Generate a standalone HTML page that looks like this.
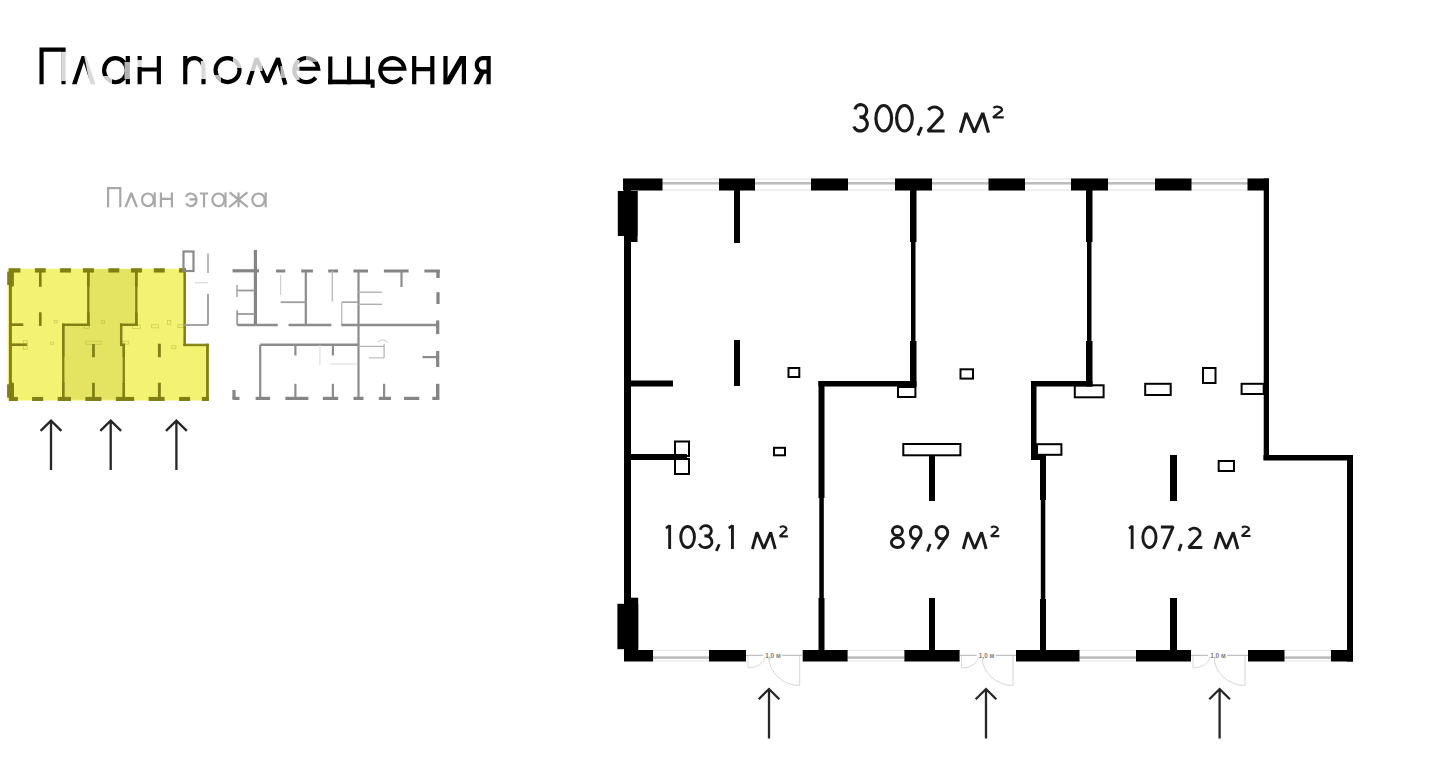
<!DOCTYPE html>
<html><head><meta charset="utf-8">
<style>
html,body{margin:0;padding:0;background:#fff;}
body{width:1438px;height:767px;position:relative;overflow:hidden;font-family:"Liberation Sans",sans-serif;}
.t{position:absolute;white-space:nowrap;line-height:1;}
svg{position:absolute;left:0;top:0;}
</style></head><body>
<svg width="1438" height="767" viewBox="0 0 1438 767">
<defs>
<g id="walls">
<rect x="623" y="178.5" width="39.5" height="12.0"/>
<rect x="719" y="178.5" width="36" height="12.0"/>
<rect x="811" y="178.5" width="37" height="12.0"/>
<rect x="895" y="178.5" width="37" height="12.0"/>
<rect x="988.5" y="178.5" width="36.5" height="12.0"/>
<rect x="1071" y="178.5" width="37" height="12.0"/>
<rect x="1155" y="178.5" width="36.5" height="12.0"/>
<rect x="1247.5" y="178.5" width="21.5" height="12.0"/>
<rect x="624" y="650" width="29" height="11.5"/>
<rect x="709" y="650" width="37" height="11.5"/>
<rect x="802.7" y="650" width="44.9" height="11.5"/>
<rect x="904.4" y="650" width="55.2" height="11.5"/>
<rect x="1016" y="650" width="63.5" height="11.5"/>
<rect x="1136" y="650" width="55" height="11.5"/>
<rect x="1248" y="650" width="36.5" height="11.5"/>
<rect x="1331" y="650" width="22" height="11.5"/>
<rect x="624" y="190" width="7" height="460"/>
<rect x="617.8" y="191" width="19.7" height="45"/>
<rect x="624" y="191" width="13.5" height="51"/>
<rect x="617.4" y="603.8" width="20.8" height="45.4"/>
<rect x="624" y="597.7" width="14.2" height="52.3"/>
<rect x="910" y="190" width="6.5" height="52"/>
<rect x="911" y="242" width="4.5" height="99"/>
<rect x="910" y="341" width="6.5" height="45.5"/>
<rect x="1086" y="190" width="6.5" height="52"/>
<rect x="1087" y="242" width="4.5" height="99"/>
<rect x="1086" y="341" width="6.5" height="45.5"/>
<rect x="818.5" y="381" width="98.0" height="5.5"/>
<rect x="818.5" y="381" width="6.0" height="117"/>
<rect x="819.3" y="498" width="4.5" height="100"/>
<rect x="818.5" y="598" width="6.0" height="52"/>
<rect x="1031" y="381" width="61.5" height="5.5"/>
<rect x="1031" y="381" width="5.5" height="79"/>
<rect x="1031" y="455" width="15" height="5"/>
<rect x="1040" y="455" width="6" height="45"/>
<rect x="1040.8" y="500" width="4.5" height="99"/>
<rect x="1040" y="599" width="6" height="51"/>
<rect x="1263.7" y="178.5" width="5.3" height="281.5"/>
<rect x="1263.5" y="455" width="89.5" height="5.5"/>
<rect x="1347" y="455" width="6" height="206.5"/>
<rect x="734" y="190" width="6" height="53"/>
<rect x="734" y="340" width="6" height="46"/>
<rect x="631" y="380.5" width="42" height="6.0"/>
<rect x="631" y="454" width="56" height="6"/>
<rect x="929" y="598" width="6" height="52"/>
<rect x="929" y="456" width="6" height="45"/>
<rect x="1170" y="455" width="7" height="46"/>
<rect x="1170" y="598" width="7" height="52"/>
</g>
</defs>
<!-- main plan -->
<g fill="#fff"><rect x="623" y="182" width="646" height="2.6" fill="#bdbdbd"/>
<rect x="623" y="178.5" width="646" height="1" fill="#e4e4e4"/>
<rect x="623" y="189.5" width="646" height="1" fill="#e4e4e4"/>
<rect x="653" y="656.3" width="56" height="2.6" fill="#bdbdbd"/>
<rect x="653" y="650" width="56" height="1" fill="#e4e4e4"/>
<rect x="653" y="660.5" width="56" height="1" fill="#e4e4e4"/>
<rect x="847.6" y="656.3" width="56.799999999999955" height="2.6" fill="#bdbdbd"/>
<rect x="847.6" y="650" width="56.799999999999955" height="1" fill="#e4e4e4"/>
<rect x="847.6" y="660.5" width="56.799999999999955" height="1" fill="#e4e4e4"/>
<rect x="1079.5" y="656.3" width="56.5" height="2.6" fill="#bdbdbd"/>
<rect x="1079.5" y="650" width="56.5" height="1" fill="#e4e4e4"/>
<rect x="1079.5" y="660.5" width="56.5" height="1" fill="#e4e4e4"/>
<rect x="1284.5" y="656.3" width="46.5" height="2.6" fill="#bdbdbd"/>
<rect x="1284.5" y="650" width="46.5" height="1" fill="#e4e4e4"/>
<rect x="1284.5" y="660.5" width="46.5" height="1" fill="#e4e4e4"/></g>
<g fill="#000">
<use href="#walls"/>
</g>
<g fill="none" stroke="#000" stroke-width="2">
<rect x="788.5" y="368.0" width="10.8" height="9"/>
<rect x="898.0" y="387.0" width="17.4" height="10"/>
<rect x="960.5" y="369.3" width="12.5" height="9.3"/>
<rect x="1074.8" y="385.3" width="28.8" height="12.0"/>
<rect x="1145.2" y="383.8" width="25.5" height="11.2"/>
<rect x="1203.0" y="368.0" width="12.5" height="15"/>
<rect x="1241.6" y="383.8" width="22.1" height="10.2"/>
<rect x="675.0" y="441.5" width="14" height="14.5"/>
<rect x="675.0" y="459.0" width="14" height="15"/>
<rect x="774.0" y="447.8" width="11" height="7.5"/>
<rect x="903.3" y="444.0" width="57.1" height="11.3"/>
<rect x="1037.0" y="444.2" width="24.4" height="10.6"/>
<rect x="1218.7" y="461.0" width="15.3" height="10"/>
</g>
<line x1="746" y1="655.3" x2="763" y2="655.3" stroke="#aaa" stroke-width="0.9"/>
<line x1="782" y1="655.3" x2="802.7" y2="655.3" stroke="#aaa" stroke-width="0.9"/>
<text x="773" y="657.6" font-size="6.5" fill="#808080" font-weight="bold" text-anchor="middle" font-family="Liberation Sans, sans-serif">1,0 м</text>
<path d="M799.7 656 L799.7 685.5 A31 29.5 0 0 1 768.7 656.5" fill="none" stroke="#d6d6d6" stroke-width="1"/>
<path d="M748 656 L748 668 A17 12 0 0 0 765 657" fill="none" stroke="#dadada" stroke-width="1"/>
<line x1="959.6" y1="655.3" x2="976.6" y2="655.3" stroke="#aaa" stroke-width="0.9"/>
<line x1="995.6" y1="655.3" x2="1016" y2="655.3" stroke="#aaa" stroke-width="0.9"/>
<text x="986.6" y="657.6" font-size="6.5" fill="#808080" font-weight="bold" text-anchor="middle" font-family="Liberation Sans, sans-serif">1,0 м</text>
<path d="M1013 656 L1013 685.5 A31 29.5 0 0 1 982 656.5" fill="none" stroke="#d6d6d6" stroke-width="1"/>
<path d="M961.6 656 L961.6 668 A17 12 0 0 0 978.6 657" fill="none" stroke="#dadada" stroke-width="1"/>
<line x1="1191" y1="655.3" x2="1208" y2="655.3" stroke="#aaa" stroke-width="0.9"/>
<line x1="1227" y1="655.3" x2="1248" y2="655.3" stroke="#aaa" stroke-width="0.9"/>
<text x="1218" y="657.6" font-size="6.5" fill="#808080" font-weight="bold" text-anchor="middle" font-family="Liberation Sans, sans-serif">1,0 м</text>
<path d="M1245 656 L1245 685.5 A31 29.5 0 0 1 1214 656.5" fill="none" stroke="#d6d6d6" stroke-width="1"/>
<path d="M1193 656 L1193 668 A17 12 0 0 0 1210 657" fill="none" stroke="#dadada" stroke-width="1"/>
<path d="M769 738.5 L769 690 M758.7 699.2 L769 689 L779.3 699.2" fill="none" stroke="#262626" stroke-width="2.3" stroke-linecap="butt" stroke-linejoin="miter"/>
<path d="M986 738.5 L986 690 M975.7 699.2 L986 689 L996.3 699.2" fill="none" stroke="#262626" stroke-width="2.3" stroke-linecap="butt" stroke-linejoin="miter"/>
<path d="M1219.6 738.5 L1219.6 690 M1209.3 699.2 L1219.6 689 L1229.8999999999999 699.2" fill="none" stroke="#262626" stroke-width="2.3" stroke-linecap="butt" stroke-linejoin="miter"/>
<!-- thumbnail -->
<g transform="translate(-160.8,220.07) scale(0.2728)">
<polygon points="617.5,178.5 1269.5,178.5 1269.5,457 1353,457 1353,661.5 617.5,661.5" fill="#f3f272"/>
<polygon points="818.5,658 818.5,381 910,381 910,180 1086,180 1086,381 1031,381 1031,455 1040,455 1040,658" fill="#e4e462"/>
<g fill="#7f7f14" stroke="#7f7f14" stroke-width="3.5"><use href="#walls"/></g>
<g fill="none" stroke="#9a9a30" stroke-width="3" opacity="0.4"><rect x="788.5" y="368.0" width="10.8" height="9"/>
<rect x="898.0" y="387.0" width="17.4" height="10"/>
<rect x="960.5" y="369.3" width="12.5" height="9.3"/>
<rect x="1074.8" y="385.3" width="28.8" height="12.0"/>
<rect x="1145.2" y="383.8" width="25.5" height="11.2"/>
<rect x="1203.0" y="368.0" width="12.5" height="15"/>
<rect x="1241.6" y="383.8" width="22.1" height="10.2"/>
<rect x="675.0" y="441.5" width="14" height="14.5"/>
<rect x="675.0" y="459.0" width="14" height="15"/>
<rect x="774.0" y="447.8" width="11" height="7.5"/>
<rect x="903.3" y="444.0" width="57.1" height="11.3"/>
<rect x="1037.0" y="444.2" width="24.4" height="10.6"/>
<rect x="1218.7" y="461.0" width="15.3" height="10"/></g>
</g>
<rect x="183.5" y="251.5" width="10" height="19.5" fill="none" stroke="#8a8a8a" stroke-width="2.2"/>
<line x1="208" y1="253.5" x2="208" y2="273" stroke="#a8a8a8" stroke-width="1.6"/>
<line x1="195" y1="282.8" x2="208" y2="282.8" stroke="#cfcfcf" stroke-width="1"/>
<line x1="208" y1="294" x2="208" y2="325" stroke="#9a9a9a" stroke-width="1.8"/>
<line x1="184" y1="325" x2="208" y2="325" stroke="#9a9a9a" stroke-width="1.8"/>
<line x1="255.4" y1="250" x2="255.4" y2="325" stroke="#858585" stroke-width="3.2"/>
<line x1="232.5" y1="270.8" x2="259" y2="270.8" stroke="#858585" stroke-width="3.2"/>
<line x1="237.2" y1="310.4" x2="237.2" y2="325" stroke="#999" stroke-width="1.8"/>
<line x1="237" y1="314" x2="255" y2="314" stroke="#999" stroke-width="1.8"/>
<line x1="237" y1="290.5" x2="255" y2="290.5" stroke="#999" stroke-width="1.8"/>
<line x1="237" y1="285" x2="237" y2="297" stroke="#aaa" stroke-width="1.6"/>
<line x1="276" y1="271" x2="285.3" y2="271" stroke="#858585" stroke-width="3"/>
<line x1="301.2" y1="271" x2="312.9" y2="271" stroke="#858585" stroke-width="3"/>
<line x1="328.2" y1="271" x2="338.1" y2="271" stroke="#858585" stroke-width="3"/>
<line x1="353.4" y1="271" x2="368" y2="271" stroke="#858585" stroke-width="3"/>
<line x1="383.9" y1="271" x2="408.6" y2="271" stroke="#858585" stroke-width="3"/>
<line x1="424.4" y1="271" x2="439.7" y2="271" stroke="#858585" stroke-width="3"/>
<line x1="438" y1="270" x2="438" y2="278" stroke="#858585" stroke-width="3.4"/>
<line x1="305.8" y1="271" x2="305.8" y2="325" stroke="#8c8c8c" stroke-width="2.2"/>
<line x1="358.5" y1="271" x2="358.5" y2="398.4" stroke="#8c8c8c" stroke-width="2.2"/>
<line x1="401.5" y1="271" x2="401.5" y2="287" stroke="#8c8c8c" stroke-width="2.2"/>
<line x1="332.3" y1="271" x2="332.3" y2="301.6" stroke="#bdbdbd" stroke-width="1.4"/>
<line x1="280.6" y1="302.2" x2="306" y2="302.2" stroke="#9d9d9d" stroke-width="1.8"/>
<line x1="280.6" y1="275" x2="280.6" y2="295" stroke="#cfcfcf" stroke-width="1.2"/>
<line x1="341.7" y1="302.2" x2="358" y2="302.2" stroke="#a5a5a5" stroke-width="1.6"/>
<line x1="341.7" y1="302.2" x2="341.7" y2="325" stroke="#bdbdbd" stroke-width="1.4"/>
<line x1="358" y1="292.2" x2="382" y2="292.2" stroke="#b0b0b0" stroke-width="1.4"/>
<line x1="358" y1="304.3" x2="382" y2="304.3" stroke="#b0b0b0" stroke-width="1.4"/>
<line x1="438" y1="292.2" x2="438" y2="304" stroke="#858585" stroke-width="3.2"/>
<line x1="237.2" y1="325" x2="277.8" y2="325" stroke="#8c8c8c" stroke-width="2.4"/>
<line x1="288.5" y1="325" x2="331.3" y2="325" stroke="#8c8c8c" stroke-width="2.4"/>
<line x1="341.3" y1="325" x2="438.4" y2="325" stroke="#8c8c8c" stroke-width="2.4"/>
<line x1="437.7" y1="320.4" x2="437.7" y2="334.1" stroke="#858585" stroke-width="3.2"/>
<line x1="260.2" y1="344.8" x2="358.9" y2="344.8" stroke="#8c8c8c" stroke-width="2.4"/>
<line x1="260.2" y1="344.8" x2="260.2" y2="398.4" stroke="#8c8c8c" stroke-width="2.2"/>
<line x1="295.4" y1="344.8" x2="295.4" y2="355.5" stroke="#8c8c8c" stroke-width="2.2"/>
<line x1="332.9" y1="344.8" x2="332.9" y2="355.5" stroke="#8c8c8c" stroke-width="2.2"/>
<line x1="295.4" y1="383.8" x2="295.4" y2="398.4" stroke="#8c8c8c" stroke-width="2.2"/>
<line x1="332.9" y1="383.8" x2="332.9" y2="398.4" stroke="#8c8c8c" stroke-width="2.2"/>
<line x1="384.1" y1="383.8" x2="384.1" y2="398.4" stroke="#8c8c8c" stroke-width="2.2"/>
<line x1="422.4" y1="357.1" x2="437.7" y2="357.1" stroke="#8c8c8c" stroke-width="2.2"/>
<line x1="437.7" y1="351" x2="437.7" y2="367" stroke="#858585" stroke-width="3.2"/>
<line x1="232.6" y1="398.4" x2="239.5" y2="398.4" stroke="#858585" stroke-width="3.2"/>
<line x1="255.6" y1="398.4" x2="270.1" y2="398.4" stroke="#858585" stroke-width="3.2"/>
<line x1="285.4" y1="398.4" x2="308.4" y2="398.4" stroke="#858585" stroke-width="3.2"/>
<line x1="322.9" y1="398.4" x2="338.2" y2="398.4" stroke="#858585" stroke-width="3.2"/>
<line x1="353.5" y1="398.4" x2="363.5" y2="398.4" stroke="#858585" stroke-width="3.2"/>
<line x1="378.8" y1="398.4" x2="391" y2="398.4" stroke="#858585" stroke-width="3.2"/>
<line x1="404" y1="398.4" x2="419.3" y2="398.4" stroke="#858585" stroke-width="3.2"/>
<line x1="432.3" y1="398.4" x2="439.2" y2="398.4" stroke="#858585" stroke-width="3.2"/>
<line x1="234" y1="390" x2="234" y2="399" stroke="#858585" stroke-width="3.2"/>
<line x1="437.7" y1="383.8" x2="437.7" y2="399.5" stroke="#858585" stroke-width="3.4"/>
<line x1="359.6" y1="346.4" x2="384.1" y2="346.4" stroke="#b5b5b5" stroke-width="1.3"/>
<line x1="384.1" y1="344" x2="384.1" y2="357.8" stroke="#b5b5b5" stroke-width="1.3"/>
<line x1="368.8" y1="357.8" x2="384.1" y2="357.8" stroke="#c5c5c5" stroke-width="1.3"/>
<line x1="330.6" y1="364" x2="356.6" y2="364" stroke="#dcdcdc" stroke-width="1.1"/>
<line x1="319.9" y1="345" x2="319.9" y2="365" stroke="#dcdcdc" stroke-width="1.1"/>
<path d="M378 342 Q384 337 388 343" fill="none" stroke="#c8c8c8" stroke-width="1"/>
<path d="M51 470 L51 421.7 M40.6 430.9 L51 420.7 L61.4 430.9" fill="none" stroke="#262626" stroke-width="2.3" stroke-linecap="butt" stroke-linejoin="miter"/>
<path d="M110.7 470 L110.7 421.7 M100.3 430.9 L110.7 420.7 L121.10000000000001 430.9" fill="none" stroke="#262626" stroke-width="2.3" stroke-linecap="butt" stroke-linejoin="miter"/>
<path d="M176.4 470 L176.4 421.7 M166.0 430.9 L176.4 420.7 L186.8 430.9" fill="none" stroke="#262626" stroke-width="2.3" stroke-linecap="butt" stroke-linejoin="miter"/>
<path d="M41.55 84.2 V49.55 H63.55 V84.2" fill="none" stroke="#000" stroke-width="4.15" stroke-linejoin="miter"/>
<polygon points="72,84.2 81.6,56 86,56 95.4,84.2 90.8,84.2 83.8,62.5 76.6,84.2" fill="#000"/>
<ellipse cx="115.4" cy="70.2" rx="11.3" ry="12" fill="none" stroke="#000" stroke-width="4.15"/>
<path d="M127.8 56 V84.2" stroke="#000" stroke-width="4.2"/>
<path d="M139.65 56 V84.2 M158.85 56 V84.2 M139.65 69.5 H158.85" stroke="#000" stroke-width="4.15" fill="none"/>
<path d="M185.25 84.2 V56 M185.25 70 C185.25 62.5 189 58.15 194.4 58.15 C199.8 58.15 203.5 62.5 203.5 68.5 V84.2" fill="none" stroke="#000" stroke-width="4.15"/>
<circle cx="227.55" cy="70.1" r="12" fill="none" stroke="#000" stroke-width="4.15"/>
<polyline points="248.2,84.6 256.6,58.3 267.3,82.2 278,58.3 285.4,84.6" fill="none" stroke="#000" stroke-width="4.15" stroke-linejoin="bevel"/>
<path d="M294.25 68.7 H318.25 A12 12 0 1 0 315.71 77.59" fill="none" stroke="#000" stroke-width="4.15"/>
<path d="M330.3 56.4 V84.2 M349.1 56.4 V84.2 M367.9 56.4 V84.2" stroke="#000" stroke-width="4.2" fill="none"/>
<rect x="328.1" y="79.6" width="44.5" height="4.6" fill="#000"/><rect x="370.6" y="79.6" width="4" height="8.2" fill="#000"/>
<path d="M380.3 68.7 H404.3 A12 12 0 1 0 401.76 77.59" fill="none" stroke="#000" stroke-width="4.15"/>
<path d="M414.2 56 V84.2 M432.3 56 V84.2 M414.2 69.2 H432.3" stroke="#000" stroke-width="4.2" fill="none"/>
<path d="M445.5 56 V84.2 M463.9 56 V84.2" stroke="#000" stroke-width="4.2" fill="none"/><polygon points="443.4,84.2 449.6,84.2 466.1,56 459.9,56" fill="#000"/>
<path d="M488.6 56 V84.2 M488.6 58.15 H482.8 A6 6.7 0 0 0 482.8 71.6 H488.6" stroke="#000" stroke-width="4.2" fill="none"/><polygon points="480.5,70.5 486,70.5 478.8,84.2 473.3,84.2" fill="#000"/>
<rect x="61.3" y="51.8" width="5.5" height="29.200000000000003" fill="#fff" opacity="0.85"/>
<rect x="103" y="76" width="9" height="10" fill="#fff" opacity="0.8"/>
<rect x="124.5" y="62" width="6.5" height="17" fill="#fff" opacity="0.7"/>
<rect x="136.8" y="60" width="5.699999999999989" height="7" fill="#fff" opacity="0.85"/>
<rect x="200.8" y="61" width="5.699999999999989" height="18" fill="#fff" opacity="0.85"/>
<rect x="233" y="57" width="9.5" height="11" fill="#fff" opacity="0.8"/>
<rect x="212.5" y="75" width="8.5" height="10" fill="#fff" opacity="0.7"/>
<rect x="245.5" y="55" width="17.0" height="16" fill="#fff" opacity="0.8"/>
<rect x="280.5" y="66" width="7.5" height="12" fill="#fff" opacity="0.7"/>
<rect x="291.5" y="60" width="8.0" height="20" fill="#fff" opacity="0.8"/>
<rect x="306" y="55" width="11" height="7" fill="#fff" opacity="0.6"/>
<polygon points="84,55 88.5,55 97,85 90,85" fill="#fff" opacity="0.85"/>
<path d="M854.98 109.32 A5.97 6.23 0 1 1 860.74 117.16 M859.40 117.16 A7.00 6.92 0 1 1 853.82 126.45" fill="none" stroke="#1a1a1a" stroke-width="3.20" stroke-linejoin="bevel"/>
<ellipse cx="883.75" cy="118.25" rx="7.85" ry="12.75" fill="none" stroke="#1a1a1a" stroke-width="3.20"/>
<ellipse cx="904.45" cy="118.25" rx="7.85" ry="12.75" fill="none" stroke="#1a1a1a" stroke-width="3.20"/>
<path d="M928.36 109.92 A7.55 6.72 0 0 1 941.63 116.08 L927.90 131.00 H944.60" fill="none" stroke="#1a1a1a" stroke-width="3.20" stroke-linejoin="bevel"/>
<path d="M921.60 127.00 L918.00 135.50" fill="none" stroke="#1a1a1a" stroke-width="3.04" stroke-linejoin="bevel"/>
<polyline points="960.40,132.60 966.16,113.02 974.45,132.28 982.74,113.02 988.50,132.60" fill="none" stroke="#1a1a1a" stroke-width="3.20" stroke-linejoin="bevel"/>
<path d="M993.34 107.99 A4.75 2.79 0 0 1 1001.69 110.55 L993.05 117.45 H1003.70" fill="none" stroke="#1a1a1a" stroke-width="2.30" stroke-linejoin="bevel"/>
<path d="M669.65 525.00 V549.00" fill="none" stroke="#1a1a1a" stroke-width="2.90" stroke-linejoin="bevel"/><path d="M665.93 528.12 L669.65 525.58" fill="none" stroke="#1a1a1a" stroke-width="2.46" stroke-linejoin="bevel"/>
<ellipse cx="687.60" cy="537.00" rx="6.85" ry="10.55" fill="none" stroke="#1a1a1a" stroke-width="2.90"/>
<path d="M700.32 529.55 A5.59 5.16 0 1 1 705.72 536.03 M704.40 536.04 A6.55 5.76 0 1 1 699.25 543.76" fill="none" stroke="#1a1a1a" stroke-width="2.90" stroke-linejoin="bevel"/>
<path d="M732.45 525.00 V549.00" fill="none" stroke="#1a1a1a" stroke-width="2.90" stroke-linejoin="bevel"/><path d="M728.73 528.12 L732.45 525.58" fill="none" stroke="#1a1a1a" stroke-width="2.46" stroke-linejoin="bevel"/>
<path d="M719.30 544.20 L716.30 551.00" fill="none" stroke="#1a1a1a" stroke-width="2.75" stroke-linejoin="bevel"/>
<polyline points="752.35,549.00 756.96,532.29 763.80,548.71 770.64,532.29 775.25,549.00" fill="none" stroke="#1a1a1a" stroke-width="2.90" stroke-linejoin="bevel"/>
<path d="M779.96 527.48 A3.56 2.64 0 0 1 786.21 529.90 L779.74 536.36 H787.90" fill="none" stroke="#1a1a1a" stroke-width="2.09" stroke-linejoin="bevel"/>
<ellipse cx="897.40" cy="531.00" rx="5.00" ry="4.55" fill="none" stroke="#1a1a1a" stroke-width="2.90"/><ellipse cx="897.40" cy="542.58" rx="6.05" ry="4.97" fill="none" stroke="#1a1a1a" stroke-width="2.90"/>
<ellipse cx="915.70" cy="532.68" rx="5.35" ry="6.23" fill="none" stroke="#1a1a1a" stroke-width="2.90"/><path d="M920.42 535.60 L911.89 549.00" fill="none" stroke="#1a1a1a" stroke-width="2.90" stroke-linejoin="bevel"/>
<ellipse cx="941.95" cy="532.68" rx="5.80" ry="6.23" fill="none" stroke="#1a1a1a" stroke-width="2.90"/><path d="M947.07 535.60 L937.89 549.00" fill="none" stroke="#1a1a1a" stroke-width="2.90" stroke-linejoin="bevel"/>
<path d="M930.20 544.00 L927.50 551.50" fill="none" stroke="#1a1a1a" stroke-width="2.75" stroke-linejoin="bevel"/>
<polyline points="963.25,549.00 967.86,532.29 974.70,548.71 981.54,532.29 986.15,549.00" fill="none" stroke="#1a1a1a" stroke-width="2.90" stroke-linejoin="bevel"/>
<path d="M991.16 527.69 A3.66 2.49 0 0 1 997.59 529.97 L990.94 536.16 H999.30" fill="none" stroke="#1a1a1a" stroke-width="2.09" stroke-linejoin="bevel"/>
<path d="M1132.15 525.50 V549.00" fill="none" stroke="#1a1a1a" stroke-width="2.90" stroke-linejoin="bevel"/><path d="M1129.02 528.55 L1132.15 526.08" fill="none" stroke="#1a1a1a" stroke-width="2.46" stroke-linejoin="bevel"/>
<ellipse cx="1149.45" cy="537.25" rx="6.60" ry="10.30" fill="none" stroke="#1a1a1a" stroke-width="2.90"/>
<path d="M1160.90 526.95 H1173.13 L1163.52 549.00" fill="none" stroke="#1a1a1a" stroke-width="2.90" stroke-linejoin="bevel"/>
<path d="M1189.02 530.48 A6.10 5.36 0 0 1 1199.75 535.39 L1188.65 547.55 H1202.30" fill="none" stroke="#1a1a1a" stroke-width="2.90" stroke-linejoin="bevel"/>
<path d="M1181.30 544.00 L1178.90 551.00" fill="none" stroke="#1a1a1a" stroke-width="2.75" stroke-linejoin="bevel"/>
<polyline points="1214.95,549.00 1219.56,532.29 1226.40,548.71 1233.24,532.29 1237.85,549.00" fill="none" stroke="#1a1a1a" stroke-width="2.90" stroke-linejoin="bevel"/>
<path d="M1241.98 527.65 A3.86 2.44 0 0 1 1248.76 529.88 L1241.74 535.96 H1250.50" fill="none" stroke="#1a1a1a" stroke-width="2.09" stroke-linejoin="bevel"/>
<path d="M108.1 207.2 V188.1 H120.30000000000001 V207.2" fill="none" stroke="#a8a8a8" stroke-width="2.2" stroke-linejoin="miter"/>
<polygon points="124.3,207.2 130.2,192.4 132.4,192.4 138.1,207.2 135.7,207.2 131.3,196.5 126.7,207.2" fill="#a8a8a8"/>
<ellipse cx="147.85" cy="199.80" rx="5.85" ry="6.30" fill="none" stroke="#a8a8a8" stroke-width="2.2"/>
<path d="M154.70000000000002 192.4 V207.2" fill="none" stroke="#a8a8a8" stroke-width="2.2" stroke-linejoin="miter"/>
<path d="M160.9 192.4 V207.2 M171.9 192.4 V207.2 M160.9 198.9 H171.9" fill="none" stroke="#a8a8a8" stroke-width="2.2" stroke-linejoin="miter"/>
<path d="M185.82 196.65 A5.75 6.30 0 1 1 186.09 203.41 M189.5 199.3 H196.55" fill="none" stroke="#a8a8a8" stroke-width="2.2" stroke-linejoin="miter"/>
<path d="M199.9 193.5 H208.2 M204.05 192.4 V207.2" fill="none" stroke="#a8a8a8" stroke-width="2.2" stroke-linejoin="miter"/>
<ellipse cx="218.45" cy="199.80" rx="6.05" ry="6.30" fill="none" stroke="#a8a8a8" stroke-width="2.2"/>
<path d="M225.5 192.4 V207.2" fill="none" stroke="#a8a8a8" stroke-width="2.2" stroke-linejoin="miter"/>
<path d="M238.5 192.4 V207.2 M229.6 192.4 L238.5 199.6 L229.2 207.2 M247.4 192.4 L238.5 199.6 L247.8 207.2" fill="none" stroke="#a8a8a8" stroke-width="2.2" stroke-linejoin="miter"/>
<ellipse cx="258.50" cy="199.80" rx="6.20" ry="6.30" fill="none" stroke="#a8a8a8" stroke-width="2.2"/>
<path d="M265.7 192.4 V207.2" fill="none" stroke="#a8a8a8" stroke-width="2.2" stroke-linejoin="miter"/>
</svg>
</body></html>
